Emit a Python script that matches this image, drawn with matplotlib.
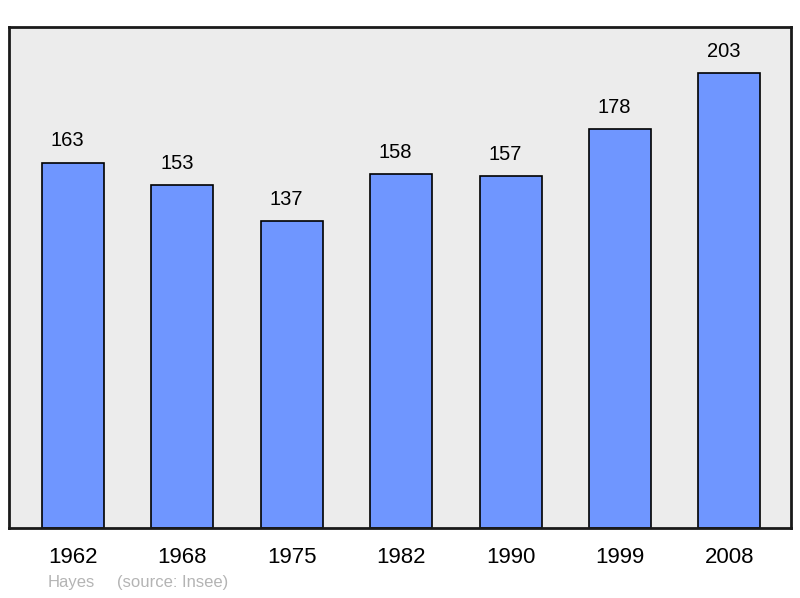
import matplotlib
matplotlib.use("Agg")
import matplotlib.pyplot as plt

plt.rcParams['font.family'] = ['Liberation Sans', 'DejaVu Sans']

years = ['1962', '1968', '1975', '1982', '1990', '1999', '2008']
population = [163, 153, 137, 158, 157, 178, 203]

fig = plt.figure(figsize=(8, 5.98), dpi=100)
ax = fig.add_axes([9/800, 70/598, 782/800, 501/598])
ax.set_facecolor('#ececec')
x = list(range(len(years)))
ax.bar(x, population, width=0.567, color='#6f96ff', edgecolor='black', linewidth=1.2, zorder=2)
ax.set_xlim(-0.585, 6.563)
ax.set_ylim(0, 501/2.24)
for xi, v in zip(x, population):
    ax.annotate(str(v), (xi, v), xytext=(-4, 22*0.72), textcoords='offset points',
                ha='center', va='center', fontsize=14.5, color='black')
ax.set_yticks([])
ax.set_xticks(x)
ax.set_xticklabels(years, fontsize=16)
ax.tick_params(axis='x', length=0, pad=14)
for s in ax.spines.values():
    s.set_linewidth(2)
    s.set_color('#1a1a1a')
fig.text(48/800, 1 - 583/598, 'Hayes', fontsize=12, color='#b4b4b4', va='center', ha='left')
fig.text(117/800, 1 - 583/598, '(source: Insee)', fontsize=12, color='#b4b4b4', va='center', ha='left')
fig.savefig('out.png', dpi=100)
